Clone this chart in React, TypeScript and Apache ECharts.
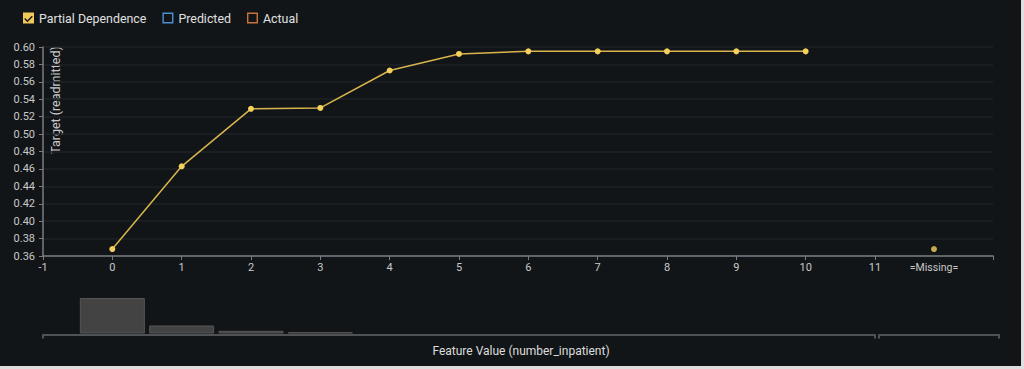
import React, { useEffect, useRef } from "react";
import * as echarts from "echarts";

const PD_X = [0, 1, 2, 3, 4, 5, 6, 7, 8, 9, 10];
const PD_Y = [0.368, 0.463, 0.529, 0.53, 0.573, 0.592, 0.595, 0.595, 0.595, 0.595, 0.595];
const MISSING_LABEL = "=Missing=";
const MISSING_Y = 0.368;
const HIST_X = [0, 1, 2, 3, 4, 5, 6, 7, 8, 9, 10];
const HIST_COUNTS = [100, 22.5, 7.6, 3.7, 0, 0, 0, 0, 0, 0, 0];
const LEGEND_NAMES = ["Partial Dependence", "Predicted", "Actual"];
const Y_TITLE = "Target (readmitted)";
const X_TITLE = "Feature Value (number_inpatient)";

const W = 1021;
const H = 366;
const BG = "#121518";
const LABEL = "#c8c8c8";
const AXIS = "#7a7d80";
const SPLIT = "#1e2226";
const GOLD_LINE = "#d8b54c";
const GOLD_DOT = "#f3cf5c";
const FONT = "Roboto";

const CHECK_ICON =
  "path://M0,0H10V10H0Z M1.1,5.9L4,8.8L8.9,3.9L8,3L4,7L2,5Z";
const BOX_ICON = "path://M0,0H10V10H0Z M1.3,1.3V8.7H8.7V1.3Z";

export default function App() {
  const ref = useRef<HTMLDivElement>(null);
  useEffect(() => {
    if (!ref.current) return;
    const chart = echarts.init(ref.current, null, { renderer: "svg" });
    const lbl = { color: LABEL, fontSize: 11, fontFamily: FONT };
    const option: any = {
      animation: false,
      backgroundColor: BG,
      textStyle: { fontFamily: FONT },
      legend: {
        left: 23,
        top: 12,
        padding: 0,
        itemWidth: 11,
        itemHeight: 11,
        itemGap: 16,
        selectedMode: false,
        textStyle: { color: "#e0e0e0", fontSize: 12.4, fontFamily: FONT },
        itemStyle: { borderWidth: 0 },
        data: [
          { name: LEGEND_NAMES[0], icon: CHECK_ICON, itemStyle: { color: "#f0c95a", borderWidth: 0 } },
          { name: LEGEND_NAMES[1], icon: BOX_ICON, itemStyle: { color: "#4b8fd0", borderWidth: 0 } },
          { name: LEGEND_NAMES[2], icon: BOX_ICON, itemStyle: { color: "#c8733f", borderWidth: 0 } },
        ],
      },
      grid: [
        { left: 43, right: W - 875, top: 47, bottom: H - 256 },
        { left: 875, right: W - 993, top: 47, bottom: H - 256 },
        { left: 43, right: W - 875, top: 298, bottom: H - 333.5 },
        { left: 879, right: W - 999, top: 298, bottom: H - 333.5 },
      ],
      xAxis: [
        {
          type: "value",
          gridIndex: 0,
          min: -1,
          max: 11,
          interval: 1,
          axisLine: { onZero: false, lineStyle: { color: AXIS, width: 1.5 } },
          axisTick: { length: 4, lineStyle: { color: AXIS } },
          axisLabel: { ...lbl, margin: 6 },
          splitLine: { show: false },
        },
        {
          type: "category",
          gridIndex: 1,
          data: [MISSING_LABEL],
          boundaryGap: true,
          axisLine: { onZero: false, lineStyle: { color: AXIS, width: 1.5 } },
          axisTick: { show: true, length: 4, lineStyle: { color: AXIS } },
          axisLabel: { ...lbl, fontSize: 10.5, margin: 6 },
          splitLine: { show: false },
        },
        {
          type: "value",
          gridIndex: 2,
          min: -1,
          max: 11,
          offset: 1,
          axisLine: { onZero: false, lineStyle: { color: "#505356", width: 2 } },
          axisTick: { show: true, customValues: [-1, 11], length: 4, lineStyle: { color: "#505356", width: 2 } },
          axisLabel: { show: false },
          splitLine: { show: false },
        },
        {
          type: "category",
          gridIndex: 3,
          data: [MISSING_LABEL],
          boundaryGap: true,
          offset: 1,
          axisLine: { onZero: false, lineStyle: { color: "#505356", width: 2 } },
          axisTick: { show: true, length: 4, lineStyle: { color: "#505356", width: 2 } },
          axisLabel: { show: false },
          splitLine: { show: false },
        },
      ],
      yAxis: [
        {
          type: "value",
          gridIndex: 0,
          min: 0.36,
          max: 0.6,
          interval: 0.02,
          axisLine: { show: true, onZero: false, lineStyle: { color: AXIS, width: 1.5 } },
          axisTick: { show: true, length: 4, lineStyle: { color: AXIS } },
          axisLabel: { ...lbl, margin: 8, formatter: (v: number) => v.toFixed(2) },
          splitLine: { lineStyle: { color: SPLIT, width: 1.5 } },
        },
        {
          type: "value",
          gridIndex: 1,
          min: 0.36,
          max: 0.6,
          interval: 0.02,
          axisLine: { show: false, onZero: false },
          axisTick: { show: false },
          axisLabel: { show: false },
          splitLine: { lineStyle: { color: SPLIT, width: 1.5 } },
        },
        { type: "value", gridIndex: 2, min: 0, max: 100, show: false },
        { type: "value", gridIndex: 3, min: 0, max: 100, show: false },
      ],
      series: [
        {
          name: LEGEND_NAMES[0],
          type: "line",
          xAxisIndex: 0,
          yAxisIndex: 0,
          data: PD_X.map((x, i) => [x, PD_Y[i]]),
          symbol: "circle",
          symbolSize: 6,
          lineStyle: { color: GOLD_LINE, width: 1.5 },
          itemStyle: { color: GOLD_DOT, borderWidth: 0 },
          z: 5,
        },
        {
          name: LEGEND_NAMES[0],
          type: "scatter",
          xAxisIndex: 1,
          yAxisIndex: 1,
          data: [[MISSING_LABEL, MISSING_Y]],
          symbol: "circle",
          symbolSize: 6,
          itemStyle: { color: GOLD_DOT },
        },
        { name: LEGEND_NAMES[1], type: "line", data: [], itemStyle: { color: "#4b8fd0" } },
        { name: LEGEND_NAMES[2], type: "line", data: [], itemStyle: { color: "#c8733f" } },
        {
          type: "bar",
          xAxisIndex: 2,
          yAxisIndex: 2,
          barWidth: 65,
          data: HIST_X.map((x, i) => [x, HIST_COUNTS[i]]).filter((d) => d[1] > 0),
          itemStyle: { color: "#434343", borderColor: "#565656", borderWidth: 1 },
        },
      ],
      graphic: [
        {
          type: "text",
          x: 55,
          y: 100,
          rotation: Math.PI / 2,
          style: {
            text: Y_TITLE,
            fill: LABEL,
            fontSize: 12.5,
            fontFamily: FONT,
            align: "center",
            verticalAlign: "middle",
          },
        },
        {
          type: "text",
          x: 521,
          y: 351,
          style: {
            text: X_TITLE,
            fill: "#dddddd",
            fontSize: 12,
            fontFamily: FONT,
            align: "center",
            verticalAlign: "middle",
          },
        },
      ],
    };
    chart.setOption(option);
    return () => chart.dispose();
  }, []);

  return (
    <div style={{ position: "fixed", left: 0, top: 0, right: 0, bottom: 0, background: "#dedede" }}>
      <div ref={ref} style={{ width: W, height: H }} />
    </div>
  );
}
